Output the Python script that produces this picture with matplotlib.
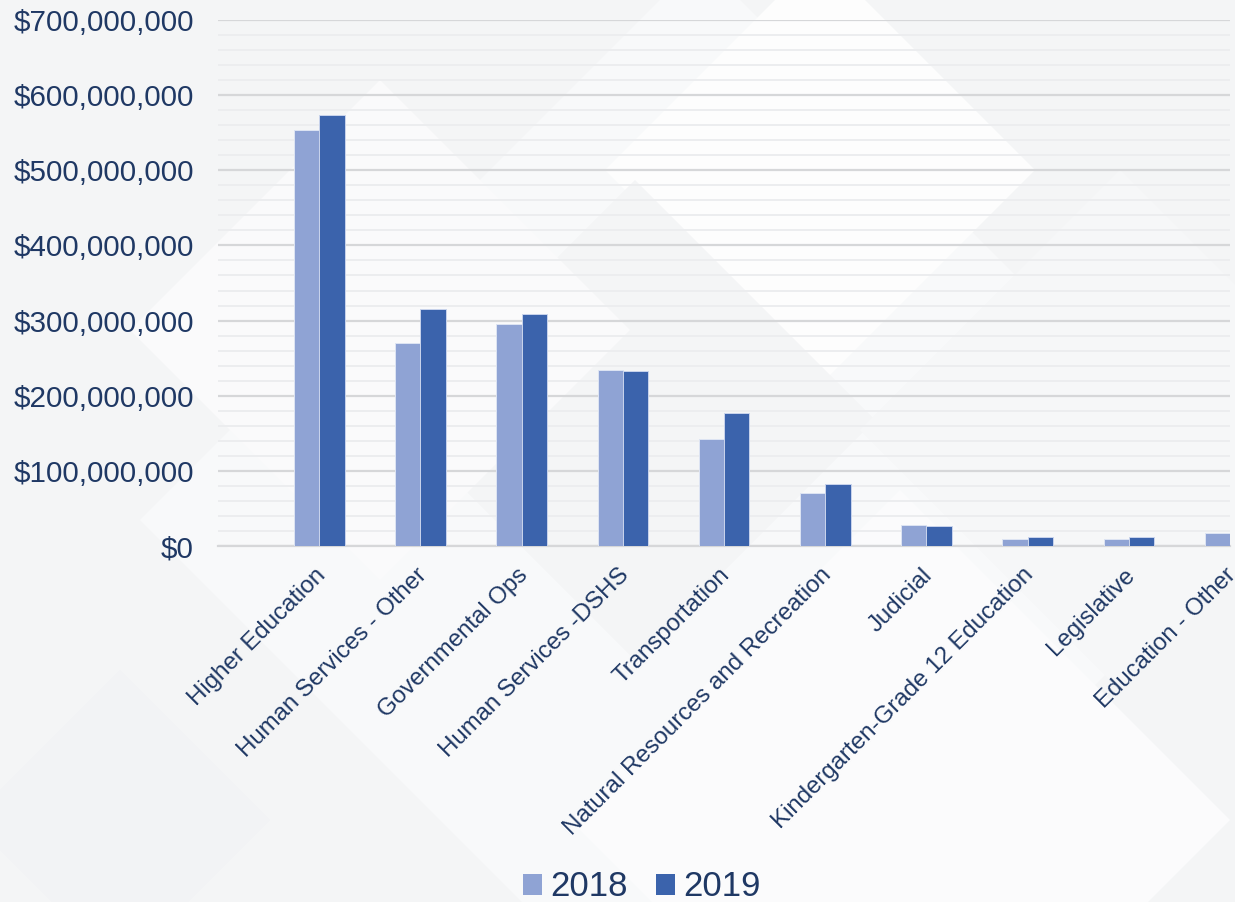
import numpy as np
import matplotlib.pyplot as plt
from matplotlib.patches import Patch, Polygon
from matplotlib.ticker import MultipleLocator, FuncFormatter
from matplotlib.transforms import ScaledTranslation

# agency spending by category, 2018 vs 2019
categories = ["Higher Education", "Human Services - Other", "Governmental Ops",
              "Human Services -DSHS", "Transportation", "Natural Resources and Recreation",
              "Judicial", "Kindergarten-Grade 12 Education", "Legislative", "Education - Other"]
spend_2018 = [554e6, 270e6, 296e6, 234e6, 142e6, 70e6, 28.5e6, 9.8e6, 9.8e6, 17.8e6]
spend_2019 = [573e6, 315e6, 308.5e6, 232.5e6, 176.5e6, 82e6, 26.5e6, 12e6, 11.6e6, 0]
years = ["2018", "2019"]

c18 = "#8FA3D4"
c19 = "#3B63AC"
text_c = "#1F3864"

plt.rcParams['font.family'] = ['Liberation Sans', 'DejaVu Sans']

W, H = 1235, 902
fig = plt.figure(figsize=(W / 100, H / 100), dpi=100, facecolor="#F4F5F6")

# faint diamond shapes in the page background
def diamond(cx, cy, r, color):
    pts = [(cx, cy - r), (cx + r, cy), (cx, cy + r), (cx - r, cy)]
    pts = [(px / W, 1 - py / H) for px, py in pts]
    fig.patches.append(Polygon(pts, closed=True, transform=fig.transFigure,
                               facecolor=color, edgecolor="none", zorder=-5))

diamond(700, 520, 560, "#F8F9FA")
diamond(820, 170, 215, "#FDFDFD")
diamond(635, 420, 240, "#F4F5F6")
diamond(1120, 430, 260, "#F6F7F8")
diamond(380, 330, 250, "#FAFAFB")
diamond(900, 820, 330, "#FBFBFC")
diamond(120, 820, 150, "#F2F3F5")

ax = fig.add_axes([218 / W, 1 - 546 / H, (1230 - 218) / W, (546 - 20) / H])
ax.set_facecolor("none")

x = np.arange(len(categories))
w = 0.25
ax.bar(x - w / 2, spend_2018, w, color=c18, edgecolor="#DDE4F3", linewidth=0.7, zorder=3)
ax.bar(x + w / 2, spend_2019, w, color=c19, edgecolor="#C9D4EC", linewidth=0.7, zorder=3)

ax.set_xlim(-1.0, 9.0)
ax.set_ylim(0, 700e6)
ax.yaxis.set_major_locator(MultipleLocator(100e6))
ax.yaxis.set_minor_locator(MultipleLocator(20e6))
ax.yaxis.set_major_formatter(FuncFormatter(lambda v, p: f"${v:,.0f}"))
ax.grid(axis="y", which="major", color="#D6D7D9", linewidth=1.6, zorder=0)
ax.grid(axis="y", which="minor", color="#ECEDEF", linewidth=1.4, zorder=0)

for s in ["top", "right", "left"]:
    ax.spines[s].set_visible(False)
ax.spines["bottom"].set_color("#D6D7D9")
ax.spines["bottom"].set_linewidth(1.6)

ax.tick_params(axis="y", which="both", length=0, pad=17.5, labelsize=21.3, labelcolor=text_c)
ax.tick_params(axis="x", length=0, pad=13)
ax.set_xticks(x)
ax.set_xticklabels(categories, rotation=45, ha="right", va="top",
                   rotation_mode="anchor", fontsize=17.3, color=text_c)
# pull the slanted labels slightly left so the last one stays inside the page
shift = ScaledTranslation(-5 / 100, 0, fig.dpi_scale_trans)
for lab in ax.get_xticklabels():
    lab.set_transform(lab.get_transform() + shift)

handles = [Patch(facecolor=c18, edgecolor="none"), Patch(facecolor=c19, edgecolor="none")]
fig.legend(handles, years, loc="center", bbox_to_anchor=(642 / W, 1 - 887 / H), ncol=2,
           frameon=False, fontsize=25, labelcolor=text_c, handlelength=0.55,
           handleheight=0.55, handletextpad=0.25, columnspacing=0.8)

fig.savefig("out.png", dpi=100, facecolor=fig.get_facecolor())
